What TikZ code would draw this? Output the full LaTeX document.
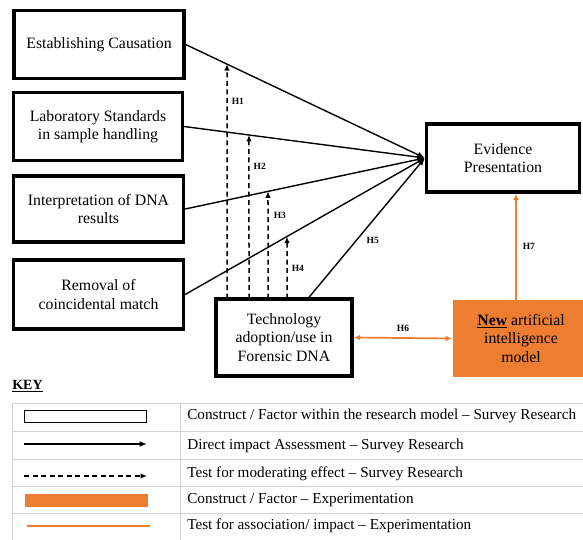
\documentclass[tikz,border=0pt]{standalone}
\usepackage{fontspec}
\setmainfont{Liberation Serif}
\usepackage{tikz}
\usetikzlibrary{arrows.meta,calc,positioning}
\definecolor{aiorange}{HTML}{ED7D31}
\definecolor{keygrey}{HTML}{D2D2D2}

\begin{document}
\begin{tikzpicture}
[x=1pt,y=-1pt, semithick,
box/.style={draw,line width=3.3pt,align=center,inner sep=0pt,
  font=\fontsize{15.8}{18.5}\selectfont},
aibox/.style={fill=aiorange,align=center,inner sep=0pt,
  font=\fontsize{15.8}{18.5}\selectfont},
direct/.style={-{Latex[length=7.5pt,width=6pt]},line width=1.4pt},
moder/.style={-{Latex[length=6.5pt,width=5.5pt]},dash pattern=on 5pt off 3.5pt,line width=1.5pt},
assoc/.style={aiorange,line width=1.7pt},
hlab/.style={font=\fontsize{9.5}{10}\selectfont\bfseries,inner sep=1pt},
keytext/.style={anchor=west,inner sep=0pt,font=\fontsize{15.2}{17}\selectfont}]

\useasboundingbox (0,0) rectangle (583,540);

% constructs
\node (c1) at (99,44.5)[box,minimum width=170,minimum height=68] {Establishing Causation};
\node (c2) at (98,126.5)[box,minimum width=169,minimum height=68] {Laboratory Standards\\in sample handling};
\node (c3) at (98.5,209)[box,minimum width=170,minimum height=66] {Interpretation of DNA\\results};
\node (c4) at (98.5,294.5)[box,minimum width=170,minimum height=69] {Removal of\\coincidental match};
\node (tech) at (284,337.5)[box,minimum width=136,minimum height=77] {Technology\\adoption/use in\\Forensic DNA};
\node (evid) at (503,158)[box,minimum width=153,minimum height=68] {Evidence\\Presentation};
\node (ai) at (521,338.5)[aibox,minimum width=137,minimum height=77] {\underline{\textbf{New}} artificial\\intelligence\\model};

\coordinate (ep) at (evid.west);

% direct impact
\draw[direct] (c1.east) -- (ep);
\draw[direct] (c2.east) -- (ep);
\draw[direct] (c3.east) -- (ep);
\draw[direct] (c4.east) -- (ep);
\draw[direct] (308,298.5) coordinate (t5) -- (ep) node[hlab,pos=0.41,right=9pt] {H5};

% moderating effects
\coordinate (m1) at (227,298.5);  \coordinate (m1t) at (227,0);
\coordinate (m2) at (249,298.5);  \coordinate (m2t) at (249,0);
\coordinate (m3) at (268,298.5);  \coordinate (m3t) at (268,0);
\coordinate (m4) at (287,298.5);  \coordinate (m4t) at (287,0);
\coordinate (h1) at (intersection of c1.east--ep and m1--m1t);
\coordinate (h2) at (intersection of c2.east--ep and m2--m2t);
\coordinate (h3) at (intersection of c3.east--ep and m3--m3t);
\coordinate (h4) at (intersection of c4.east--ep and m4--m4t);
\draw[moder] (m1) -- (h1) node[hlab,pos=0.84,right=3pt] {H1};
\draw[moder] (m2) -- (h2) node[hlab,pos=0.81,right=3pt] {H2};
\draw[moder] (m3) -- (h3) node[hlab,pos=0.78,right=4pt] {H3};
\draw[moder] (m4) -- (h4) node[hlab,pos=0.49,right=3pt] {H4};

% experimentation
\draw[assoc,{Latex[length=6.5pt,width=5.5pt]}-{Latex[length=6.5pt,width=5.5pt]}] (tech.east) -- (ai.west)
  node[hlab,midway,above=5pt,black] {H6};
\draw[assoc,-{Latex[length=6.5pt,width=5.5pt]}] (ai.north -| 516,0) coordinate (a7) -- (evid.south -| a7)
  node[hlab,midway,right=5pt,black] {H7};

% key
\node (key) at (12,386)[anchor=west,inner sep=0pt,font=\fontsize{14}{15}\selectfont\bfseries] {\underline{KEY}};
\draw[keygrey,line width=0.8pt] (12,403) -- (600,403);
\foreach \y in {431,459,486,513}
  \draw[keygrey,line width=0.8pt] (12,\y) -- (600,\y);
\draw[keygrey,line width=0.8pt] (12,403) -- (12,545);
\draw[keygrey,line width=0.8pt] (180,403) -- (180,545);

\node (k1) at (85.5,416.5)[draw,line width=1.4pt,minimum width=122,minimum height=12,inner sep=0pt] {};
\coordinate (k2a) at (24,444);  \coordinate (k2b) at (147,444);
\coordinate (k3a) at (24,476);  \coordinate (k3b) at (147,476);
\draw[direct,line width=1.5pt] (k2a) -- (k2b);
\draw[moder,line width=1.5pt] (k3a) -- (k3b);
\node (k4) at (86.5,500.5)[fill=aiorange,minimum width=123,minimum height=13,inner sep=0pt] {};
\coordinate (k5a) at (27,526);  \coordinate (k5b) at (150,526);
\draw[assoc] (k5a) -- (k5b);

\node (t1) at (187,416)[keytext] {Construct / Factor within the research model -- Survey Research};
\node (t2) at (187,446)[keytext] {Direct impact Assessment -- Survey Research};
\node (t3) at (187,474)[keytext] {Test for moderating effect -- Survey Research};
\node (t4) at (187,500)[keytext] {Construct / Factor -- Experimentation};
\node (t5) at (187,526)[keytext] {Test for association/ impact -- Experimentation};

\end{tikzpicture}
\end{document}
